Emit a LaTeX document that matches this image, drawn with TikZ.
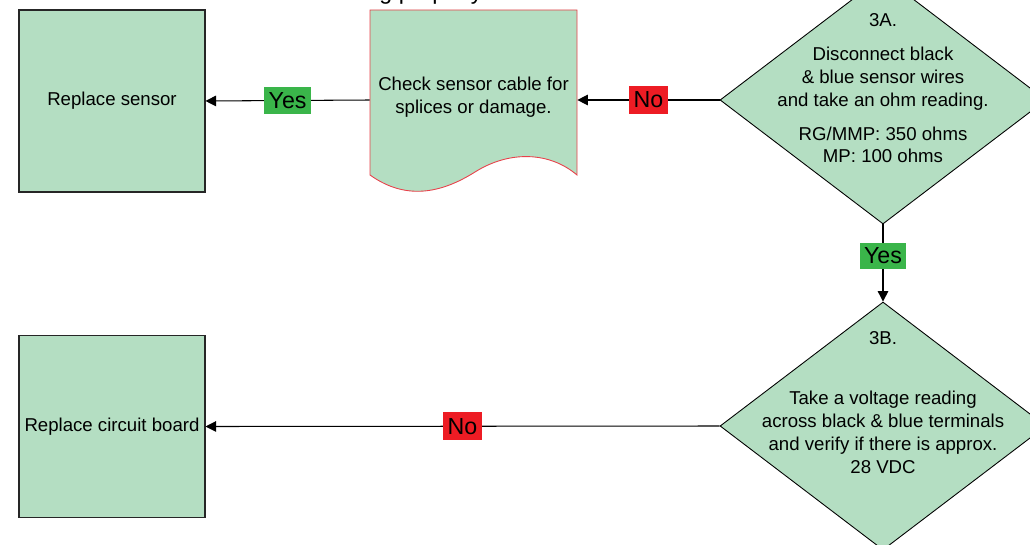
\documentclass[tikz,border=0pt]{standalone}
\usepackage{fontspec}
\setmainfont{Liberation Sans}
\usepackage{tikz}
\usetikzlibrary{shapes.geometric}
\usetikzlibrary{arrows.meta, positioning, calc}

\definecolor{boxgreen}{RGB}{180,222,194}
\definecolor{yesgreen}{RGB}{58,181,74}
\definecolor{nored}{RGB}{237,28,36}
\definecolor{docred}{RGB}{232,65,74}

\begin{document}
\begin{tikzpicture}[x=0.02cm, y=-0.02cm,
    every node/.style={font=\fontsize{10.6}{13}\selectfont},
    actionbox/.style={rectangle, draw=black!85, fill=boxgreen, line width=0.6pt,
        minimum width=3.72cm, minimum height=3.64cm, inner sep=0pt},
    decision/.style={diamond, draw=black, fill=boxgreen, line width=0.5pt,
        minimum width=6.52cm, minimum height=4.96cm, inner sep=0pt},
    flow/.style={line width=0.6pt, -{Triangle[length=6pt, width=6pt]}},
    yeslabel/.style={fill=yesgreen, inner xsep=2.5pt, inner ysep=3pt,
        font=\fontsize{13.2}{15}\selectfont},
    nolabel/.style={fill=nored, inner xsep=2.5pt, inner ysep=3.5pt,
        font=\fontsize{13.2}{15}\selectfont}]
    \useasboundingbox (0,0) rectangle (1030,544);

    % Nodes
    \node[anchor=base, font=\fontsize{13.2}{15}\selectfont] (title) at (431,0) {g properly};

    \node[actionbox] (sensor) at (112,101) {Replace sensor};
    \node[actionbox] (board) at (112,426.5) {Replace circuit board};

    % document shape for the cable check
    \draw[docred, fill=boxgreen, line width=0.5pt] (370,10) -- (577,10) -- (577,175)
        .. controls (550,152) and (510,150) .. (475,172)
        .. controls (440,194) and (405,200) .. (370,175) -- cycle;
    \node[minimum width=4.14cm, minimum height=3.6cm, inner sep=0pt, align=center] (check) at (473.5,100)
        {\raisebox{1.9mm}{\shortstack{Check sensor cable for\\[2pt] splices or damage.}}};

    \node[decision] (d3a) at (883,100) {};
    \node[align=center] (t3a) at (883,88.5) {3A.\\[6.2pt]
        Disconnect black\\ \& blue sensor wires\\ and take an ohm reading.\\[6.2pt]
        RG/MMP: 350 ohms\\ MP: 100 ohms};

    \node[decision] (d3b) at (883,426) {};
    \node[align=center] (t3b) at (883,402.5) {3B.\\[21pt]
        Take a voltage reading\\ across black \& blue terminals\\
        and verify if there is approx.\\ 28 VDC};

    % Edges
    \draw[flow] (d3a.west) -- node[nolabel] {No} (check.east);
    \draw[flow] (check.west) -- node[yeslabel] {Yes} (sensor.east);
    \draw[flow] (d3a.south) -- node[yeslabel, pos=0.41] {Yes} (d3b.north);
    \draw[flow] (d3b.west) -- node[nolabel] {No} (board.east);

\end{tikzpicture}
\end{document}
